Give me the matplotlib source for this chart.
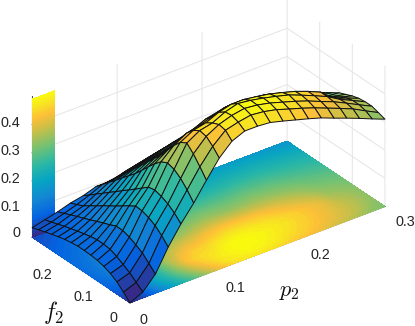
import numpy as np
import matplotlib
matplotlib.use("Agg")
import matplotlib.pyplot as plt
from matplotlib.colors import LinearSegmentedColormap

plt.rcParams['font.family'] = ['Liberation Sans', 'DejaVu Sans']
plt.rcParams['mathtext.fontset'] = 'cm'

p2 = [0, .015, .03, .045, .06, .075, .09, .105, .12, .135, .15, .165, .18, .195, .21, .225, .24, .255, .27, .285, .3]
f2 = [0, .02, .04, .06, .08, .1, .12, .14, .16, .18, .2, .22, .24, .26, .28, .3]

# one row per p2 value, one column per f2 value
z_vals = [
    [0, .022, .043, .057, .067, .073, .076, .077, .077, .074, .07, .064, .057, .05, .042, .034],
    [.021, .04, .058, .072, .085, .095, .098, .098, .094, .088, .082, .075, .068, .06, .052, .045],
    [.068, .09, .112, .125, .137, .145, .145, .134, .125, .115, .105, .095, .086, .076, .066, .056],
    [.147, .172, .192, .205, .213, .215, .2, .184, .168, .153, .138, .122, .107, .091, .08, .07],
    [.212, .235, .252, .263, .27, .265, .246, .227, .208, .19, .171, .153, .134, .116, .097, .079],
    [.269, .30, .325, .342, .349, .338, .315, .288, .26, .233, .21, .187, .163, .14, .117, .094],
    [.333, .365, .395, .418, .405, .378, .345, .312, .285, .258, .23, .203, .176, .149, .122, .095],
    [.394, .42, .44, .445, .43, .405, .37, .33, .30, .272, .245, .218, .19, .163, .135, .105],
    [.437, .46, .465, .455, .44, .415, .385, .345, .318, .29, .262, .233, .204, .175, .145, .116],
    [.456, .472, .48, .477, .46, .43, .405, .362, .33, .30, .272, .243, .214, .185, .155, .125],
    [.456, .48, .488, .49, .472, .445, .415, .372, .338, .31, .282, .253, .224, .195, .165, .135],
    [.452, .475, .483, .484, .472, .447, .418, .372, .335, .308, .281, .254, .227, .2, .172, .148],
    [.44, .465, .473, .475, .465, .442, .415, .368, .33, .305, .28, .255, .23, .205, .18, .158],
    [.427, .45, .459, .464, .457, .437, .41, .366, .332, .307, .282, .257, .233, .208, .185, .162],
    [.414, .436, .445, .452, .445, .425, .40, .362, .335, .31, .285, .26, .237, .213, .19, .165],
    [.40, .42, .429, .434, .432, .41, .385, .355, .328, .305, .282, .26, .236, .213, .19, .165],
    [.382, .402, .41, .415, .415, .395, .37, .345, .32, .30, .278, .257, .235, .213, .19, .165],
    [.365, .384, .392, .395, .395, .375, .35, .33, .31, .29, .27, .251, .23, .21, .187, .163],
    [.347, .365, .37, .368, .355, .34, .325, .31, .295, .28, .262, .245, .225, .205, .182, .16],
    [.328, .341, .347, .347, .34, .328, .315, .30, .288, .272, .256, .24, .22, .2, .178, .158],
    [.31, .318, .325, .325, .322, .315, .305, .295, .28, .265, .25, .235, .215, .195, .175, .155],
]

# the coloured strip standing on the back wall
wall_p = [0, .026]
wall_z = np.linspace(0, .49, 65)

p_ticks = ['0', '0.1', '0.2', '0.3']
f_ticks = ['0', '0.1', '0.2']
z_ticks = ['0', '0.1', '0.2', '0.3', '0.4']

parula = LinearSegmentedColormap.from_list('parula', [
    (0, (.2081, .1663, .5292)), (.125, (.0116, .3875, .882)), (.25, (.078, .52, .831)),
    (.375, (.0232, .6418, .767)), (.5, (.1707, .7196, .6453)), (.625, (.45, .76, .45)),
    (.75, (.77, .75, .29)), (.85, (.99, .75, .22)), (.94, (.97, .9, .13)), (1, (.9763, .9831, .0538))])

P, F = np.meshgrid(p2, f2)
Z = np.array(z_vals).T
norm = plt.Normalize(0, .49)

fig = plt.figure(figsize=(4.15, 3.26), dpi=100)
ax = fig.add_axes([-17.4 / 415, -51.4 / 326, 440 / 415, 440 / 326], projection='3d', computed_zorder=False)
ax.set_proj_type('ortho')
ax.view_init(elev=30.2, azim=-126.9)
ax.set_box_aspect((318.8, 163, 163), zoom=381.9 / 440)
ax.patch.set_alpha(0)

ax.contourf(P, F, Z, levels=np.linspace(0, .49, 65), zdir='z', offset=0, cmap=parula, norm=norm, zorder=1, antialiased=False)

WP, WZ = np.meshgrid(wall_p, wall_z)
ax.plot_surface(WP, np.full(WP.shape, .3), WZ, facecolors=parula(norm(WZ)), rstride=1, cstride=1,
                linewidth=0, antialiased=False, shade=False, zorder=2)

ax.plot_surface(P, F, Z, facecolors=parula(norm(Z)), rstride=1, cstride=1,
                edgecolor='#111111', linewidth=.7, shade=False, zorder=3)

ax.set_xlim(0, .3)
ax.set_ylim(0, .3)
ax.set_zlim(0, .5)
ax.set_xticks([0, .1, .2, .3])
ax.set_yticks([0, .1, .2])
ax.set_zticks([0, .1, .2, .3, .4])
ax.set_xticklabels([])
ax.set_yticklabels([])
ax.set_zticklabels([])

for axis in (ax.xaxis, ax.yaxis, ax.zaxis):
    axis.set_pane_color((1, 1, 1, 0))
    axis.pane.set_edgecolor((1, 1, 1, 0))
    axis.line.set_color('#262626')
    axis.line.set_linewidth(.6)
    axis._axinfo['grid']['color'] = '#e4e4e4'
    axis._axinfo['grid']['linewidth'] = .7
    axis._axinfo['tick']['inward_factor'] = 0
    axis._axinfo['tick']['outward_factor'] = .25
    axis._axinfo['tick']['linewidth'] = {True: .6, False: .6}
    axis._axinfo['tick']['color'] = '#262626'

# tick labels sit where the reference has them, in pixels from the top left
def label(x, y, s, size=10.4, color='#262626', ha='center'):
    fig.text(x / 415, 1 - y / 326, s, fontsize=size, color=color, ha=ha, va='center')

for s, x, y in zip(p_ticks, [143, 235, 320, 405], [320, 288, 255, 222]):
    label(x, y, s)
for s, x, y in zip(f_ticks, [113, 83, 42], [318, 297, 275]):
    label(x, y, s)
for s, y in zip(z_ticks, [233, 207, 179, 151, 123]):
    label(20, y, s, ha='right')

label(54, 312, '$f_2$', size=17, color='#111111')
label(289, 291, '$p_2$', size=16, color='#111111')

fig.savefig('out.png', dpi=100)
